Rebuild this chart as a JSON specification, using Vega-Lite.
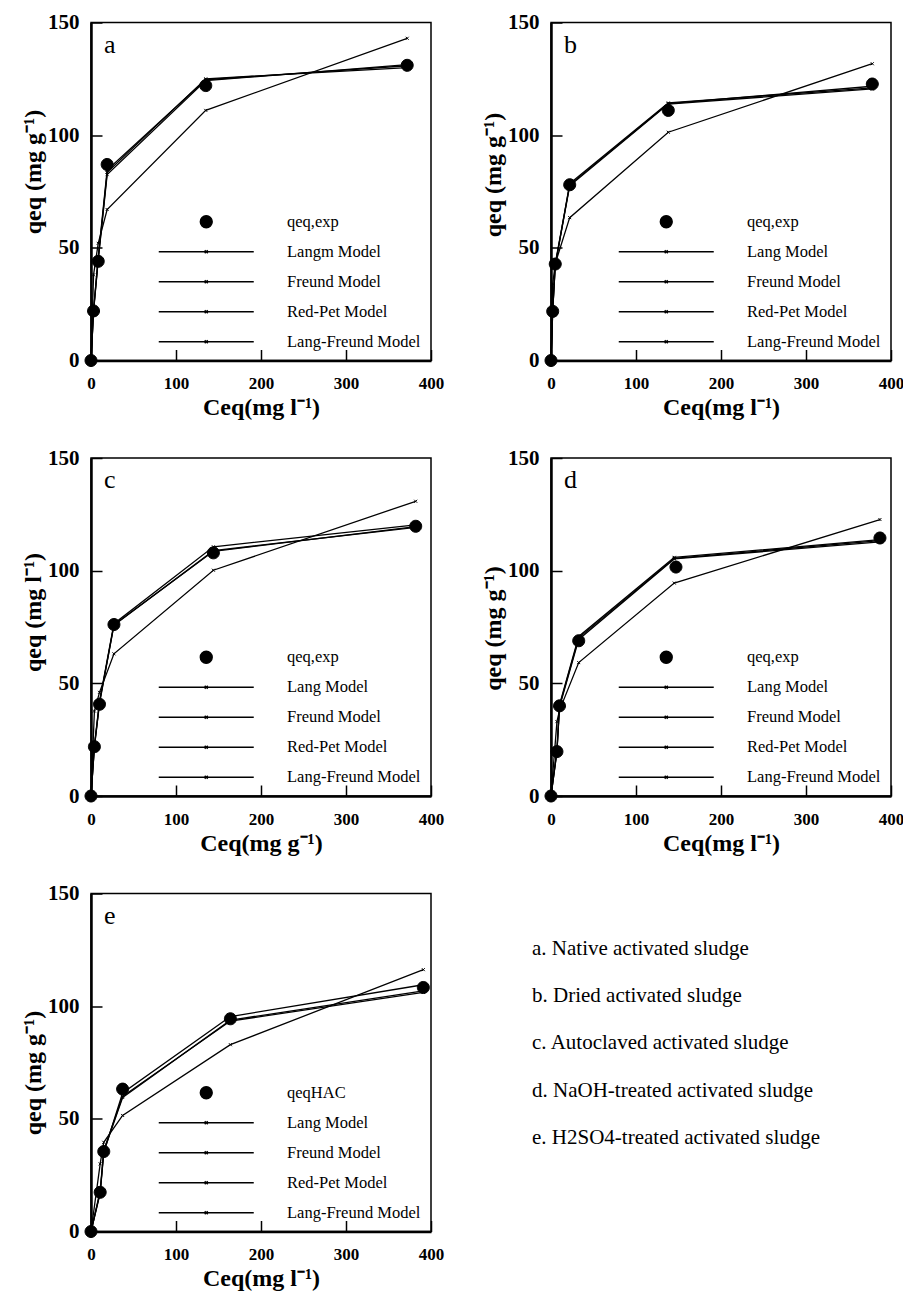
{
  "$schema": "https://vega.github.io/schema/vega-lite/v6.json",
  "background": "white",
  "padding": {"left": 20, "top": 10.5, "right": 0, "bottom": 0},
  "bounds": "flush",
  "columns": 2,
  "spacing": {"row": 97.5, "column": 120},
  "resolve": {
    "scale": {"color": "independent", "shape": "independent", "x": "independent", "y": "independent"},
    "legend": {"color": "independent", "shape": "independent"}
  },
  "config": {
    "view": {"stroke": "black", "strokeWidth": 1.5},
    "axis": {
      "labelFont": "Liberation Serif", "labelFontWeight": "bold", "labelColor": "black",
      "titleFont": "Liberation Serif", "titleFontWeight": "bold", "titleColor": "black", "titleFontSize": 24,
      "domainColor": "black", "domainWidth": 2.5, "tickColor": "black", "tickWidth": 1.5, "tickSize": -11,
      "grid": false, "labelFlush": false, "labelOverlap": false
    },
    "axisX": {"labelFontSize": 17, "labelPadding": 26, "titlePadding": 4},
    "axisY": {"labelFontSize": 21, "labelPadding": 23, "titlePadding": 2},
    "legend": {
      "orient": "bottom-right", "offset": 10, "padding": 0, "columns": 1,
      "labelFont": "Liberation Serif", "labelFontSize": 16.5, "labelColor": "black",
      "labelOffset": 72.5, "rowPadding": 13, "symbolSize": 100, "symbolOpacity": 1,
      "symbolStrokeColor": "black", "symbolStrokeWidth": 1.3
    },
    "title": {
      "anchor": "start", "frame": "group", "offset": 0, "dx": 13, "dy": 50, "baseline": "alphabetic",
      "font": "Liberation Serif", "fontSize": 26, "fontWeight": "normal", "color": "black"
    }
  },
  "datasets": {
    "models": [
      {"panel": "a", "series": "Lang", "x": 0, "y": 0}, {"panel": "a", "series": "Lang", "x": 3, "y": 22.5}, {"panel": "a", "series": "Lang", "x": 8.5, "y": 45}, {"panel": "a", "series": "Lang", "x": 19, "y": 83.5}, {"panel": "a", "series": "Lang", "x": 135, "y": 125}, {"panel": "a", "series": "Lang", "x": 372, "y": 130},
      {"panel": "a", "series": "RedPet", "x": 0, "y": 0}, {"panel": "a", "series": "RedPet", "x": 3, "y": 22}, {"panel": "a", "series": "RedPet", "x": 8.5, "y": 46}, {"panel": "a", "series": "RedPet", "x": 19, "y": 84.5}, {"panel": "a", "series": "RedPet", "x": 135, "y": 124.6}, {"panel": "a", "series": "RedPet", "x": 372, "y": 130.8},
      {"panel": "a", "series": "LangFreund", "x": 0, "y": 0}, {"panel": "a", "series": "LangFreund", "x": 3, "y": 21.5}, {"panel": "a", "series": "LangFreund", "x": 8.5, "y": 44.5}, {"panel": "a", "series": "LangFreund", "x": 19, "y": 82.5}, {"panel": "a", "series": "LangFreund", "x": 135, "y": 124.2}, {"panel": "a", "series": "LangFreund", "x": 372, "y": 131.3},
      {"panel": "a", "series": "Freund", "x": 0, "y": 0}, {"panel": "a", "series": "Freund", "x": 3, "y": 38}, {"panel": "a", "series": "Freund", "x": 8.5, "y": 52}, {"panel": "a", "series": "Freund", "x": 19, "y": 67}, {"panel": "a", "series": "Freund", "x": 135, "y": 111}, {"panel": "a", "series": "Freund", "x": 372, "y": 143},

      {"panel": "b", "series": "Lang", "x": 0, "y": 0}, {"panel": "b", "series": "Lang", "x": 2, "y": 22.5}, {"panel": "b", "series": "Lang", "x": 5, "y": 42}, {"panel": "b", "series": "Lang", "x": 22, "y": 78.5}, {"panel": "b", "series": "Lang", "x": 138, "y": 114.3}, {"panel": "b", "series": "Lang", "x": 378, "y": 121},
      {"panel": "b", "series": "RedPet", "x": 0, "y": 0}, {"panel": "b", "series": "RedPet", "x": 2, "y": 22}, {"panel": "b", "series": "RedPet", "x": 5, "y": 43}, {"panel": "b", "series": "RedPet", "x": 22, "y": 78}, {"panel": "b", "series": "RedPet", "x": 138, "y": 114}, {"panel": "b", "series": "RedPet", "x": 378, "y": 121.7},
      {"panel": "b", "series": "LangFreund", "x": 0, "y": 0}, {"panel": "b", "series": "LangFreund", "x": 2, "y": 21.5}, {"panel": "b", "series": "LangFreund", "x": 5, "y": 42.5}, {"panel": "b", "series": "LangFreund", "x": 22, "y": 77.5}, {"panel": "b", "series": "LangFreund", "x": 138, "y": 113.8}, {"panel": "b", "series": "LangFreund", "x": 378, "y": 120.5},
      {"panel": "b", "series": "Freund", "x": 0, "y": 0}, {"panel": "b", "series": "Freund", "x": 2, "y": 34}, {"panel": "b", "series": "Freund", "x": 5, "y": 43}, {"panel": "b", "series": "Freund", "x": 22, "y": 63.4}, {"panel": "b", "series": "Freund", "x": 138, "y": 101.3}, {"panel": "b", "series": "Freund", "x": 378, "y": 131.7},

      {"panel": "c", "series": "Lang", "x": 0, "y": 0}, {"panel": "c", "series": "Lang", "x": 4, "y": 22.5}, {"panel": "c", "series": "Lang", "x": 10, "y": 42}, {"panel": "c", "series": "Lang", "x": 27, "y": 76.5}, {"panel": "c", "series": "Lang", "x": 144, "y": 110.6}, {"panel": "c", "series": "Lang", "x": 382, "y": 120.3},
      {"panel": "c", "series": "RedPet", "x": 0, "y": 0}, {"panel": "c", "series": "RedPet", "x": 4, "y": 22}, {"panel": "c", "series": "RedPet", "x": 10, "y": 41}, {"panel": "c", "series": "RedPet", "x": 27, "y": 76}, {"panel": "c", "series": "RedPet", "x": 144, "y": 108.6}, {"panel": "c", "series": "RedPet", "x": 382, "y": 119.5},
      {"panel": "c", "series": "LangFreund", "x": 0, "y": 0}, {"panel": "c", "series": "LangFreund", "x": 4, "y": 21.5}, {"panel": "c", "series": "LangFreund", "x": 10, "y": 41.5}, {"panel": "c", "series": "LangFreund", "x": 27, "y": 75.8}, {"panel": "c", "series": "LangFreund", "x": 144, "y": 108.9}, {"panel": "c", "series": "LangFreund", "x": 382, "y": 119.2},
      {"panel": "c", "series": "Freund", "x": 0, "y": 0}, {"panel": "c", "series": "Freund", "x": 4, "y": 37.7}, {"panel": "c", "series": "Freund", "x": 10, "y": 46}, {"panel": "c", "series": "Freund", "x": 27, "y": 63.1}, {"panel": "c", "series": "Freund", "x": 144, "y": 100.2}, {"panel": "c", "series": "Freund", "x": 382, "y": 130.8},

      {"panel": "d", "series": "Lang", "x": 0, "y": 0}, {"panel": "d", "series": "Lang", "x": 7, "y": 20.5}, {"panel": "d", "series": "Lang", "x": 10, "y": 40.5}, {"panel": "d", "series": "Lang", "x": 32.6, "y": 70.8}, {"panel": "d", "series": "Lang", "x": 145, "y": 105.9}, {"panel": "d", "series": "Lang", "x": 387, "y": 113.8},
      {"panel": "d", "series": "RedPet", "x": 0, "y": 0}, {"panel": "d", "series": "RedPet", "x": 7, "y": 20}, {"panel": "d", "series": "RedPet", "x": 10, "y": 39.5}, {"panel": "d", "series": "RedPet", "x": 32.6, "y": 69.5}, {"panel": "d", "series": "RedPet", "x": 145, "y": 105.2}, {"panel": "d", "series": "RedPet", "x": 387, "y": 112.8},
      {"panel": "d", "series": "LangFreund", "x": 0, "y": 0}, {"panel": "d", "series": "LangFreund", "x": 7, "y": 19.5}, {"panel": "d", "series": "LangFreund", "x": 10, "y": 40}, {"panel": "d", "series": "LangFreund", "x": 32.6, "y": 70.2}, {"panel": "d", "series": "LangFreund", "x": 145, "y": 105.5}, {"panel": "d", "series": "LangFreund", "x": 387, "y": 113.3},
      {"panel": "d", "series": "Freund", "x": 0, "y": 0}, {"panel": "d", "series": "Freund", "x": 7, "y": 33}, {"panel": "d", "series": "Freund", "x": 10, "y": 38}, {"panel": "d", "series": "Freund", "x": 32.6, "y": 59.2}, {"panel": "d", "series": "Freund", "x": 145, "y": 94.5}, {"panel": "d", "series": "Freund", "x": 387, "y": 122.7},

      {"panel": "e", "series": "Lang", "x": 0, "y": 0}, {"panel": "e", "series": "Lang", "x": 10.8, "y": 17}, {"panel": "e", "series": "Lang", "x": 15, "y": 35}, {"panel": "e", "series": "Lang", "x": 37.2, "y": 61.5}, {"panel": "e", "series": "Lang", "x": 164, "y": 95.4}, {"panel": "e", "series": "Lang", "x": 391, "y": 109.5},
      {"panel": "e", "series": "RedPet", "x": 0, "y": 0}, {"panel": "e", "series": "RedPet", "x": 10.8, "y": 18}, {"panel": "e", "series": "RedPet", "x": 15, "y": 36}, {"panel": "e", "series": "RedPet", "x": 37.2, "y": 60}, {"panel": "e", "series": "RedPet", "x": 164, "y": 93.4}, {"panel": "e", "series": "RedPet", "x": 391, "y": 106.1},
      {"panel": "e", "series": "LangFreund", "x": 0, "y": 0}, {"panel": "e", "series": "LangFreund", "x": 10.8, "y": 17.5}, {"panel": "e", "series": "LangFreund", "x": 15, "y": 35.5}, {"panel": "e", "series": "LangFreund", "x": 37.2, "y": 59.5}, {"panel": "e", "series": "LangFreund", "x": 164, "y": 93.8}, {"panel": "e", "series": "LangFreund", "x": 391, "y": 106.8},
      {"panel": "e", "series": "Freund", "x": 0, "y": 0}, {"panel": "e", "series": "Freund", "x": 10.8, "y": 30}, {"panel": "e", "series": "Freund", "x": 15, "y": 39.6}, {"panel": "e", "series": "Freund", "x": 37.2, "y": 51.5}, {"panel": "e", "series": "Freund", "x": 164, "y": 82.9}, {"panel": "e", "series": "Freund", "x": 391, "y": 116.2}
    ],
    "exp": [
      {"panel": "a", "series": "qeq,exp", "x": 0, "y": 0}, {"panel": "a", "series": "qeq,exp", "x": 3, "y": 22}, {"panel": "a", "series": "qeq,exp", "x": 8.5, "y": 44}, {"panel": "a", "series": "qeq,exp", "x": 19, "y": 87}, {"panel": "a", "series": "qeq,exp", "x": 135, "y": 122}, {"panel": "a", "series": "qeq,exp", "x": 372, "y": 131},
      {"panel": "b", "series": "qeq,exp", "x": 0, "y": 0}, {"panel": "b", "series": "qeq,exp", "x": 2, "y": 21.8}, {"panel": "b", "series": "qeq,exp", "x": 5, "y": 42.8}, {"panel": "b", "series": "qeq,exp", "x": 22, "y": 78}, {"panel": "b", "series": "qeq,exp", "x": 138, "y": 111}, {"panel": "b", "series": "qeq,exp", "x": 378, "y": 122.7},
      {"panel": "c", "series": "qeq,exp", "x": 0, "y": 0}, {"panel": "c", "series": "qeq,exp", "x": 4, "y": 21.9}, {"panel": "c", "series": "qeq,exp", "x": 10, "y": 40.7}, {"panel": "c", "series": "qeq,exp", "x": 27, "y": 76.1}, {"panel": "c", "series": "qeq,exp", "x": 144, "y": 107.9}, {"panel": "c", "series": "qeq,exp", "x": 382, "y": 119.7},
      {"panel": "d", "series": "qeq,exp", "x": 0, "y": 0}, {"panel": "d", "series": "qeq,exp", "x": 7, "y": 19.7}, {"panel": "d", "series": "qeq,exp", "x": 10, "y": 40}, {"panel": "d", "series": "qeq,exp", "x": 32.6, "y": 68.9}, {"panel": "d", "series": "qeq,exp", "x": 147, "y": 101.6}, {"panel": "d", "series": "qeq,exp", "x": 387, "y": 114.5},
      {"panel": "e", "series": "qeqHAC", "x": 0, "y": 0}, {"panel": "e", "series": "qeqHAC", "x": 10.8, "y": 17.4}, {"panel": "e", "series": "qeqHAC", "x": 15, "y": 35.5}, {"panel": "e", "series": "qeqHAC", "x": 37.2, "y": 63.2}, {"panel": "e", "series": "qeqHAC", "x": 164, "y": 94.4}, {"panel": "e", "series": "qeqHAC", "x": 391, "y": 108.3}
    ],
    "notes": [
      {"label": "a. Native activated sludge"},
      {"label": "b. Dried activated sludge"},
      {"label": "c. Autoclaved activated sludge"},
      {"label": "d. NaOH-treated activated sludge"},
      {"label": "e. H2SO4-treated activated sludge"}
    ]
  },
  "concat": [
    {
      "width": 340, "height": 338, "title": {"text": "a"},
      "layer": [
        {"data": {"name": "models"}, "transform": [{"filter": "datum.panel === 'a'"}],
         "mark": {"type": "line", "color": "black", "strokeWidth": 1.3, "point": {"shape": "M-0.3,-0.3L0.3,0.3M-0.3,0.3L0.3,-0.3", "size": 100, "filled": false, "stroke": "black", "strokeWidth": 1, "opacity": 1}},
         "encoding": {
           "x": {"field": "x", "type": "quantitative", "scale": {"domain": [0, 400], "nice": false}, "axis": {"values": [0, 100, 200, 300, 400], "title": "Ceq(mg l⁻¹)"}},
           "y": {"field": "y", "type": "quantitative", "scale": {"domain": [0, 150], "nice": false}, "axis": {"values": [0, 50, 100, 150], "title": "qeq (mg g⁻¹)", "titleY": 149}},
           "detail": {"field": "series"}}},
        {"data": {"name": "exp"}, "transform": [{"filter": "datum.panel === 'a'"}],
         "mark": {"type": "point", "filled": true, "opacity": 1, "size": 100, "stroke": "black", "strokeWidth": 1},
         "encoding": {
           "x": {"field": "x", "type": "quantitative"},
           "y": {"field": "y", "type": "quantitative"},
           "color": {"field": "series", "type": "nominal", "scale": {"domain": ["qeq,exp", "Langm Model", "Freund Model", "Red-Pet Model", "Lang-Freund Model"], "range": ["black", "black", "black", "black", "black"]}, "legend": {"title": null, "encode": {"symbols": {"update": {"stroke": {"value": "black"}, "strokeWidth": {"value": 1.3}}}}}},
           "shape": {"field": "series", "type": "nominal", "scale": {"domain": ["qeq,exp", "Langm Model", "Freund Model", "Red-Pet Model", "Lang-Freund Model"], "range": ["M-1.2,0A1.2,1.2,0,1,0,1.2,0A1.2,1.2,0,1,0,-1.2,0Z", "M-9.5,0H9.5M-0.3,-0.3L0.3,0.3M-0.3,0.3L0.3,-0.3", "M-9.5,0H9.5M-0.3,-0.3L0.3,0.3M-0.3,0.3L0.3,-0.3", "M-9.5,0H9.5M-0.3,-0.3L0.3,0.3M-0.3,0.3L0.3,-0.3", "M-9.5,0H9.5M-0.3,-0.3L0.3,0.3M-0.3,0.3L0.3,-0.3"]}, "legend": {"title": null, "encode": {"symbols": {"update": {"stroke": {"value": "black"}, "strokeWidth": {"value": 1.3}}}}}}}}
      ]
    },
    {
      "width": 340, "height": 338, "title": {"text": "b"},
      "layer": [
        {"data": {"name": "models"}, "transform": [{"filter": "datum.panel === 'b'"}],
         "mark": {"type": "line", "color": "black", "strokeWidth": 1.3, "point": {"shape": "M-0.3,-0.3L0.3,0.3M-0.3,0.3L0.3,-0.3", "size": 100, "filled": false, "stroke": "black", "strokeWidth": 1, "opacity": 1}},
         "encoding": {
           "x": {"field": "x", "type": "quantitative", "scale": {"domain": [0, 400], "nice": false}, "axis": {"values": [0, 100, 200, 300, 400], "title": "Ceq(mg l⁻¹)"}},
           "y": {"field": "y", "type": "quantitative", "scale": {"domain": [0, 150], "nice": false}, "axis": {"values": [0, 50, 100, 150], "title": "qeq (mg g⁻¹)", "titleY": 152}},
           "detail": {"field": "series"}}},
        {"data": {"name": "exp"}, "transform": [{"filter": "datum.panel === 'b'"}],
         "mark": {"type": "point", "filled": true, "opacity": 1, "size": 100, "stroke": "black", "strokeWidth": 1},
         "encoding": {
           "x": {"field": "x", "type": "quantitative"},
           "y": {"field": "y", "type": "quantitative"},
           "color": {"field": "series", "type": "nominal", "scale": {"domain": ["qeq,exp", "Lang Model", "Freund Model", "Red-Pet Model", "Lang-Freund Model"], "range": ["black", "black", "black", "black", "black"]}, "legend": {"title": null, "encode": {"symbols": {"update": {"stroke": {"value": "black"}, "strokeWidth": {"value": 1.3}}}}}},
           "shape": {"field": "series", "type": "nominal", "scale": {"domain": ["qeq,exp", "Lang Model", "Freund Model", "Red-Pet Model", "Lang-Freund Model"], "range": ["M-1.2,0A1.2,1.2,0,1,0,1.2,0A1.2,1.2,0,1,0,-1.2,0Z", "M-9.5,0H9.5M-0.3,-0.3L0.3,0.3M-0.3,0.3L0.3,-0.3", "M-9.5,0H9.5M-0.3,-0.3L0.3,0.3M-0.3,0.3L0.3,-0.3", "M-9.5,0H9.5M-0.3,-0.3L0.3,0.3M-0.3,0.3L0.3,-0.3", "M-9.5,0H9.5M-0.3,-0.3L0.3,0.3M-0.3,0.3L0.3,-0.3"]}, "legend": {"title": null, "encode": {"symbols": {"update": {"stroke": {"value": "black"}, "strokeWidth": {"value": 1.3}}}}}}}}
      ]
    },
    {
      "width": 340, "height": 338, "title": {"text": "c"},
      "layer": [
        {"data": {"name": "models"}, "transform": [{"filter": "datum.panel === 'c'"}],
         "mark": {"type": "line", "color": "black", "strokeWidth": 1.3, "point": {"shape": "M-0.3,-0.3L0.3,0.3M-0.3,0.3L0.3,-0.3", "size": 100, "filled": false, "stroke": "black", "strokeWidth": 1, "opacity": 1}},
         "encoding": {
           "x": {"field": "x", "type": "quantitative", "scale": {"domain": [0, 400], "nice": false}, "axis": {"values": [0, 100, 200, 300, 400], "title": "Ceq(mg g⁻¹)"}},
           "y": {"field": "y", "type": "quantitative", "scale": {"domain": [0, 150], "nice": false}, "axis": {"values": [0, 50, 100, 150], "title": "qeq (mg l⁻¹)", "titleY": 154}},
           "detail": {"field": "series"}}},
        {"data": {"name": "exp"}, "transform": [{"filter": "datum.panel === 'c'"}],
         "mark": {"type": "point", "filled": true, "opacity": 1, "size": 100, "stroke": "black", "strokeWidth": 1},
         "encoding": {
           "x": {"field": "x", "type": "quantitative"},
           "y": {"field": "y", "type": "quantitative"},
           "color": {"field": "series", "type": "nominal", "scale": {"domain": ["qeq,exp", "Lang Model", "Freund Model", "Red-Pet Model", "Lang-Freund Model"], "range": ["black", "black", "black", "black", "black"]}, "legend": {"title": null, "encode": {"symbols": {"update": {"stroke": {"value": "black"}, "strokeWidth": {"value": 1.3}}}}}},
           "shape": {"field": "series", "type": "nominal", "scale": {"domain": ["qeq,exp", "Lang Model", "Freund Model", "Red-Pet Model", "Lang-Freund Model"], "range": ["M-1.2,0A1.2,1.2,0,1,0,1.2,0A1.2,1.2,0,1,0,-1.2,0Z", "M-9.5,0H9.5M-0.3,-0.3L0.3,0.3M-0.3,0.3L0.3,-0.3", "M-9.5,0H9.5M-0.3,-0.3L0.3,0.3M-0.3,0.3L0.3,-0.3", "M-9.5,0H9.5M-0.3,-0.3L0.3,0.3M-0.3,0.3L0.3,-0.3", "M-9.5,0H9.5M-0.3,-0.3L0.3,0.3M-0.3,0.3L0.3,-0.3"]}, "legend": {"title": null, "encode": {"symbols": {"update": {"stroke": {"value": "black"}, "strokeWidth": {"value": 1.3}}}}}}}}
      ]
    },
    {
      "width": 340, "height": 338, "title": {"text": "d"},
      "layer": [
        {"data": {"name": "models"}, "transform": [{"filter": "datum.panel === 'd'"}],
         "mark": {"type": "line", "color": "black", "strokeWidth": 1.3, "point": {"shape": "M-0.3,-0.3L0.3,0.3M-0.3,0.3L0.3,-0.3", "size": 100, "filled": false, "stroke": "black", "strokeWidth": 1, "opacity": 1}},
         "encoding": {
           "x": {"field": "x", "type": "quantitative", "scale": {"domain": [0, 400], "nice": false}, "axis": {"values": [0, 100, 200, 300, 400], "title": "Ceq(mg l⁻¹)"}},
           "y": {"field": "y", "type": "quantitative", "scale": {"domain": [0, 150], "nice": false}, "axis": {"values": [0, 50, 100, 150], "title": "qeq (mg g⁻¹)", "titleY": 170}},
           "detail": {"field": "series"}}},
        {"data": {"name": "exp"}, "transform": [{"filter": "datum.panel === 'd'"}],
         "mark": {"type": "point", "filled": true, "opacity": 1, "size": 100, "stroke": "black", "strokeWidth": 1},
         "encoding": {
           "x": {"field": "x", "type": "quantitative"},
           "y": {"field": "y", "type": "quantitative"},
           "color": {"field": "series", "type": "nominal", "scale": {"domain": ["qeq,exp", "Lang Model", "Freund Model", "Red-Pet Model", "Lang-Freund Model"], "range": ["black", "black", "black", "black", "black"]}, "legend": {"title": null, "encode": {"symbols": {"update": {"stroke": {"value": "black"}, "strokeWidth": {"value": 1.3}}}}}},
           "shape": {"field": "series", "type": "nominal", "scale": {"domain": ["qeq,exp", "Lang Model", "Freund Model", "Red-Pet Model", "Lang-Freund Model"], "range": ["M-1.2,0A1.2,1.2,0,1,0,1.2,0A1.2,1.2,0,1,0,-1.2,0Z", "M-9.5,0H9.5M-0.3,-0.3L0.3,0.3M-0.3,0.3L0.3,-0.3", "M-9.5,0H9.5M-0.3,-0.3L0.3,0.3M-0.3,0.3L0.3,-0.3", "M-9.5,0H9.5M-0.3,-0.3L0.3,0.3M-0.3,0.3L0.3,-0.3", "M-9.5,0H9.5M-0.3,-0.3L0.3,0.3M-0.3,0.3L0.3,-0.3"]}, "legend": {"title": null, "encode": {"symbols": {"update": {"stroke": {"value": "black"}, "strokeWidth": {"value": 1.3}}}}}}}}
      ]
    },
    {
      "width": 340, "height": 338, "title": {"text": "e"},
      "layer": [
        {"data": {"name": "models"}, "transform": [{"filter": "datum.panel === 'e'"}],
         "mark": {"type": "line", "color": "black", "strokeWidth": 1.3, "point": {"shape": "M-0.3,-0.3L0.3,0.3M-0.3,0.3L0.3,-0.3", "size": 100, "filled": false, "stroke": "black", "strokeWidth": 1, "opacity": 1}},
         "encoding": {
           "x": {"field": "x", "type": "quantitative", "scale": {"domain": [0, 400], "nice": false}, "axis": {"values": [0, 100, 200, 300, 400], "title": "Ceq(mg l⁻¹)"}},
           "y": {"field": "y", "type": "quantitative", "scale": {"domain": [0, 150], "nice": false}, "axis": {"values": [0, 50, 100, 150], "title": "qeq (mg g⁻¹)", "titleY": 179}},
           "detail": {"field": "series"}}},
        {"data": {"name": "exp"}, "transform": [{"filter": "datum.panel === 'e'"}],
         "mark": {"type": "point", "filled": true, "opacity": 1, "size": 100, "stroke": "black", "strokeWidth": 1},
         "encoding": {
           "x": {"field": "x", "type": "quantitative"},
           "y": {"field": "y", "type": "quantitative"},
           "color": {"field": "series", "type": "nominal", "scale": {"domain": ["qeqHAC", "Lang Model", "Freund Model", "Red-Pet Model", "Lang-Freund Model"], "range": ["black", "black", "black", "black", "black"]}, "legend": {"title": null, "encode": {"symbols": {"update": {"stroke": {"value": "black"}, "strokeWidth": {"value": 1.3}}}}}},
           "shape": {"field": "series", "type": "nominal", "scale": {"domain": ["qeqHAC", "Lang Model", "Freund Model", "Red-Pet Model", "Lang-Freund Model"], "range": ["M-1.2,0A1.2,1.2,0,1,0,1.2,0A1.2,1.2,0,1,0,-1.2,0Z", "M-9.5,0H9.5M-0.3,-0.3L0.3,0.3M-0.3,0.3L0.3,-0.3", "M-9.5,0H9.5M-0.3,-0.3L0.3,0.3M-0.3,0.3L0.3,-0.3", "M-9.5,0H9.5M-0.3,-0.3L0.3,0.3M-0.3,0.3L0.3,-0.3", "M-9.5,0H9.5M-0.3,-0.3L0.3,0.3M-0.3,0.3L0.3,-0.3"]}, "legend": {"title": null, "encode": {"symbols": {"update": {"stroke": {"value": "black"}, "strokeWidth": {"value": 1.3}}}}}}}}
      ]
    },
    {
      "width": 300, "height": 284,
      "view": {"stroke": null},
      "data": {"name": "notes"},
      "mark": {"type": "text", "align": "left", "baseline": "middle", "font": "Liberation Serif", "fontSize": 21, "color": "black", "dx": -19},
      "encoding": {
        "x": {"datum": 0, "type": "quantitative", "scale": {"domain": [0, 1]}, "axis": null},
        "y": {"field": "label", "type": "nominal", "sort": null, "axis": null, "scale": {"type": "point", "padding": 1, "align": 0.584}},
        "text": {"field": "label"}
      }
    }
  ]
}
